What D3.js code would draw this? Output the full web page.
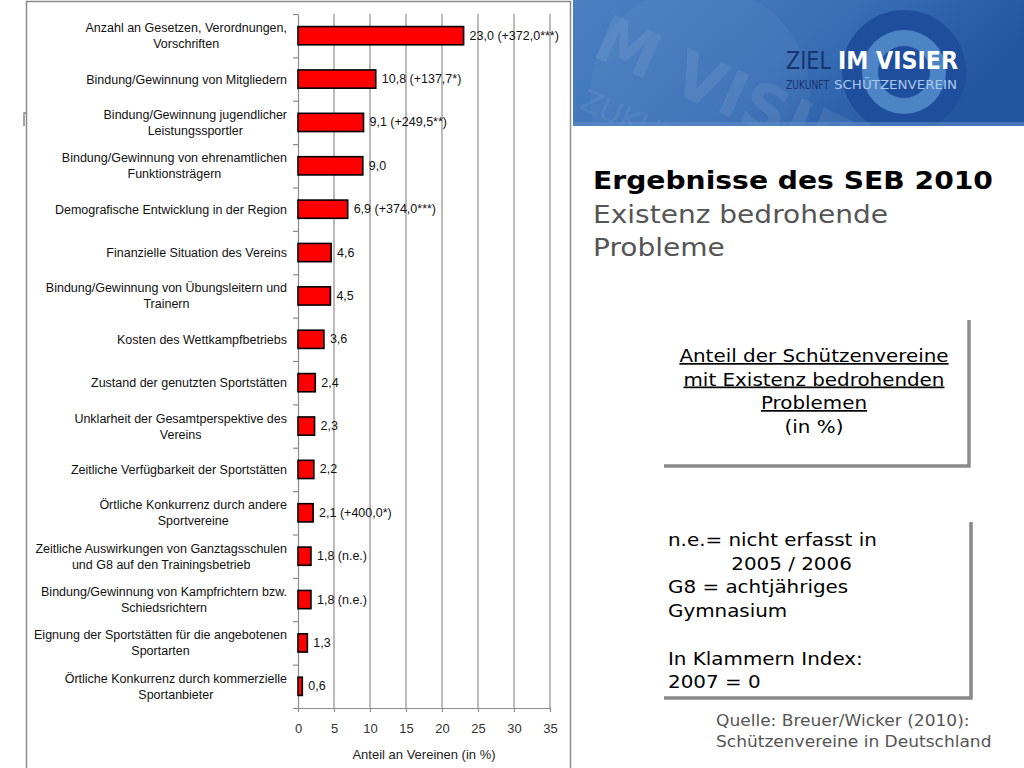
<!DOCTYPE html>
<html><head><meta charset="utf-8">
<script src="https://cdn.jsdelivr.net/npm/d3@7"></script>
<style>
html,body{margin:0;padding:0;background:#fff;}
svg{display:block;}
</style></head>
<body>
<svg id="c" width="1024" height="768"></svg>
<script>
// ---- data ----
const categories = [
  "Anzahl an Gesetzen, Verordnungen,\nVorschriften",
  "Bindung/Gewinnung von Mitgliedern",
  "Bindung/Gewinnung jugendlicher\nLeistungssportler",
  "Bindung/Gewinnung von ehrenamtlichen\nFunktionsträgern",
  "Demografische Entwicklung in der Region",
  "Finanzielle Situation des Vereins",
  "Bindung/Gewinnung von Übungsleitern und\nTrainern",
  "Kosten des Wettkampfbetriebs",
  "Zustand der genutzten Sportstätten",
  "Unklarheit der Gesamtperspektive des\nVereins",
  "Zeitliche Verfügbarkeit der Sportstätten",
  "Örtliche Konkurrenz durch andere\nSportvereine",
  "Zeitliche Auswirkungen von Ganztagsschulen\nund G8 auf den Trainingsbetrieb",
  "Bindung/Gewinnung von Kampfrichtern bzw.\nSchiedsrichtern",
  "Eignung der Sportstätten für die angebotenen\nSportarten",
  "Örtliche Konkurrenz durch kommerzielle\nSportanbieter"
];
const values = [23.0, 10.8, 9.1, 9.0, 6.9, 4.6, 4.5, 3.6, 2.4, 2.3, 2.2, 2.1, 1.8, 1.8, 1.3, 0.6];
const indexNotes = ["(+372,0***)", "(+137,7*)", "(+249,5**)", "", "(+374,0***)", "", "", "", "", "", "", "(+400,0*)", "(n.e.)", "(n.e.)", "", ""];
const xTicks = [0, 5, 10, 15, 20, 25, 30, 35];
const xTitle = "Anteil an Vereinen (in %)";
const titleBold = "Ergebnisse des SEB 2010";
const subtitleLines = ["Existenz bedrohende", "Probleme"];
const box1Lines = ["Anteil der Schützenvereine", "mit Existenz bedrohenden", "Problemen", "(in %)"];
const box2Lines = ["n.e.= nicht erfasst in", "          2005 / 2006", "G8 = achtjähriges", "Gymnasium", "", "In Klammern Index:", "2007 = 0"];
const sourceLines = ["Quelle: Breuer/Wicker (2010):", "Schützenvereine in Deutschland"];

const svg = d3.select("#c");
const fmt = v => d3.format(".1f")(v).replace(".", ",");
const WIDE = 1.17; // widen DejaVu to Verdana-like proportions
function widen(sel, f) {
  sel.each(function () {
    const w = this.getComputedTextLength();
    if (w > 0) d3.select(this).attr("textLength", w * f).attr("lengthAdjust", "spacingAndGlyphs");
  });
}
function fitTo(sel, w) {
  sel.attr("textLength", w).attr("lengthAdjust", "spacingAndGlyphs");
  return sel;
}

// ---- header banner ----
const defs = svg.append("defs");
const g1 = defs.append("linearGradient").attr("id", "hdr").attr("x1", "0").attr("x2", "1").attr("y1", "0").attr("y2", "0.3");
g1.append("stop").attr("offset", "0").attr("stop-color", "#4a80c2");
g1.append("stop").attr("offset", "0.55").attr("stop-color", "#3b70b7");
g1.append("stop").attr("offset", "1").attr("stop-color", "#2456a0");
const hdr = svg.append("g");
hdr.append("rect").attr("x", 573).attr("y", 0).attr("width", 451).attr("height", 126).attr("fill", "url(#hdr)");
const clip = defs.append("clipPath").attr("id", "hclip");
clip.append("rect").attr("x", 573).attr("y", 0).attr("width", 451).attr("height", 126);
const hc = hdr.append("g").attr("clip-path", "url(#hclip)");
hc.append("circle").attr("cx", 700).attr("cy", 95).attr("r", 110).attr("fill", "#ffffff").attr("opacity", 0.04);
hc.append("text").attr("x", 590).attr("y", 55).attr("transform", "rotate(24 590 55)")
  .attr("font-family", "DejaVu Sans").attr("font-weight", "bold").attr("font-size", 64)
  .attr("fill", "#ffffff").attr("opacity", 0.07).text("M VISIER");
hc.append("text").attr("x", 578).attr("y", 108).attr("transform", "rotate(24 578 108)")
  .attr("font-family", "DejaVu Sans").attr("font-size", 30)
  .attr("fill", "#ffffff").attr("opacity", 0.06).text("ZUKUNFT SCH");
hc.append("circle").attr("cx", 904).attr("cy", 72).attr("r", 62).attr("fill", "#1f4f9c");
hc.append("circle").attr("cx", 904).attr("cy", 72).attr("r", 42).attr("fill", "#4d84c6");
hc.append("circle").attr("cx", 904).attr("cy", 72).attr("r", 26).attr("fill", "#1f4f9c");
hc.append("rect").attr("x", 573).attr("y", 122).attr("width", 451).attr("height", 4).attr("fill", "#5b8ccb").attr("opacity", 0.6);
fitTo(hdr.append("text").attr("x", 786).attr("y", 69).attr("font-family", "DejaVu Sans Condensed, DejaVu Sans").attr("font-size", 24)
  .attr("fill", "#16346e").text("ZIEL"), 45);
fitTo(hdr.append("text").attr("x", 838).attr("y", 69).attr("font-family", "DejaVu Sans Condensed, DejaVu Sans").attr("font-weight", "bold").attr("font-size", 24)
  .attr("fill", "#ffffff").text("IM VISIER"), 120);
fitTo(hdr.append("text").attr("x", 786).attr("y", 89).attr("font-family", "DejaVu Sans Condensed, DejaVu Sans").attr("font-size", 12)
  .attr("fill", "#16346e").text("ZUKUNFT"), 43);
fitTo(hdr.append("text").attr("x", 834).attr("y", 89).attr("font-family", "DejaVu Sans Condensed, DejaVu Sans").attr("font-size", 12)
  .attr("fill", "#a9c8ec").text("SCHÜTZENVEREIN"), 123);

// ---- chart frame ----
svg.append("path").attr("d", "M26.5,768 V1.5 H570.5 V768").attr("fill", "none").attr("stroke", "#8a8a8a").attr("stroke-width", 1.5);
svg.append("path").attr("d", "M27,113 H24 V126").attr("fill", "none").attr("stroke", "#888").attr("stroke-width", 1.5);

// ---- scales ----
const x = d3.scaleLinear().domain([0, 35]).range([298, 550]);
const y = d3.scaleBand().domain(categories).range([14, 708]).paddingInner(0.58).paddingOuter(0.29);
const yIdx = d3.scaleLinear().domain([0, categories.length]).range([14, 708]);

const chart = svg.append("g");
chart.append("g").selectAll("line").data(xTicks.slice(1)).join("line")
  .attr("x1", d => x(d)).attr("x2", d => x(d)).attr("y1", 14).attr("y2", 708)
  .attr("stroke", "#8c8c8c").attr("stroke-width", 1.2);

const yAx = chart.append("g").attr("transform", `translate(${x(0)},0)`)
  .call(d3.axisLeft(yIdx).tickValues(d3.range(categories.length + 1)).tickFormat("").tickSize(5).tickSizeOuter(0));
yAx.selectAll("path,line").attr("stroke", "#8c8c8c").attr("stroke-width", 1.2);

const xAx = chart.append("g").attr("transform", "translate(0,708)")
  .call(d3.axisBottom(x).tickValues(xTicks).tickSize(4).tickSizeOuter(0).tickPadding(12));
xAx.selectAll("path,line").attr("stroke", "#8c8c8c").attr("stroke-width", 1.2);
xAx.selectAll("text").attr("font-family", "Liberation Sans, Arial").attr("font-size", 13).attr("fill", "#333");

chart.append("g").selectAll("rect").data(values).join("rect")
  .attr("x", x(0)).attr("y", (d, i) => y(categories[i]))
  .attr("width", d => x(d) - x(0)).attr("height", y.bandwidth())
  .attr("fill", "#ff0000").attr("stroke", "#000").attr("stroke-width", 1.6);

chart.append("g").selectAll("text").data(values).join("text")
  .attr("x", d => x(d) + 6).attr("y", (d, i) => y(categories[i]) + y.bandwidth() / 2 + 4)
  .attr("font-family", "Liberation Sans, Arial").attr("font-size", 12.5).attr("fill", "#111")
  .text((d, i) => fmt(d) + (indexNotes[i] ? " " + indexNotes[i] : ""));

const labG = chart.append("g");
categories.forEach(c => {
  const lines = c.split("\n");
  const cy = y(c) + y.bandwidth() / 2;
  const lh = 16;
  const t = labG.append("text").attr("font-family", "Liberation Sans, Arial").attr("font-size", 12.5)
    .attr("fill", "#111").attr("text-anchor", "end");
  const spans = lines.map((l, k) => t.append("tspan").attr("x", 287)
    .attr("y", cy + 4.5 + (k - (lines.length - 1) / 2) * lh).text(l));
  const widths = spans.map(s => s.node().getComputedTextLength());
  const mw = d3.max(widths);
  spans.forEach((s, k) => s.attr("x", 287 - (mw - widths[k]) / 2));
});

chart.append("text").attr("x", 424).attr("y", 759).attr("text-anchor", "middle")
  .attr("font-family", "Liberation Sans, Arial").attr("font-size", 13).attr("fill", "#222").text(xTitle);

// ---- right side texts ----
fitTo(svg.append("text").attr("x", 593).attr("y", 189).attr("font-family", "DejaVu Sans").attr("font-weight", "bold")
  .attr("font-size", 25).attr("fill", "#000").text(titleBold), 400);
const st = svg.append("g").selectAll("text").data(subtitleLines).join("text")
  .attr("x", 593).attr("y", (d, i) => 223 + i * 33).attr("font-family", "DejaVu Sans")
  .attr("font-size", 25).attr("fill", "#555").text(d => d);
widen(st, 295 / st.nodes()[0].getComputedTextLength());

// box 1
svg.append("path").attr("d", "M969,320 V466 H664").attr("fill", "none").attr("stroke", "#8a8a8a").attr("stroke-width", 3.5);
const b1 = svg.append("g").selectAll("text").data(box1Lines).join("text")
  .attr("x", 814).attr("y", (d, i) => 362 + i * 23.5).attr("text-anchor", "middle")
  .attr("font-family", "DejaVu Sans").attr("font-size", 17).attr("fill", "#000")
  .attr("text-decoration", (d, i) => i < 3 ? "underline" : null).text(d => d);
widen(b1, WIDE);

// box 2
svg.append("path").attr("d", "M971,522 V698 H664").attr("fill", "none").attr("stroke", "#8a8a8a").attr("stroke-width", 3.5);
const b2 = svg.append("g").selectAll("text").data(box2Lines).join("text")
  .attr("x", 668).attr("y", (d, i) => 546 + i * 23.7)
  .attr("font-family", "DejaVu Sans").attr("font-size", 17).attr("fill", "#000")
  .attr("xml:space", "preserve").style("white-space", "pre").text(d => d);
widen(b2, WIDE);

// source
const src = svg.append("g").selectAll("text").data(sourceLines).join("text")
  .attr("x", 716).attr("y", (d, i) => 726 + i * 21)
  .attr("font-family", "DejaVu Sans").attr("font-size", 15).attr("fill", "#555").text(d => d);
widen(src, 1.135);
</script>
</body></html>
